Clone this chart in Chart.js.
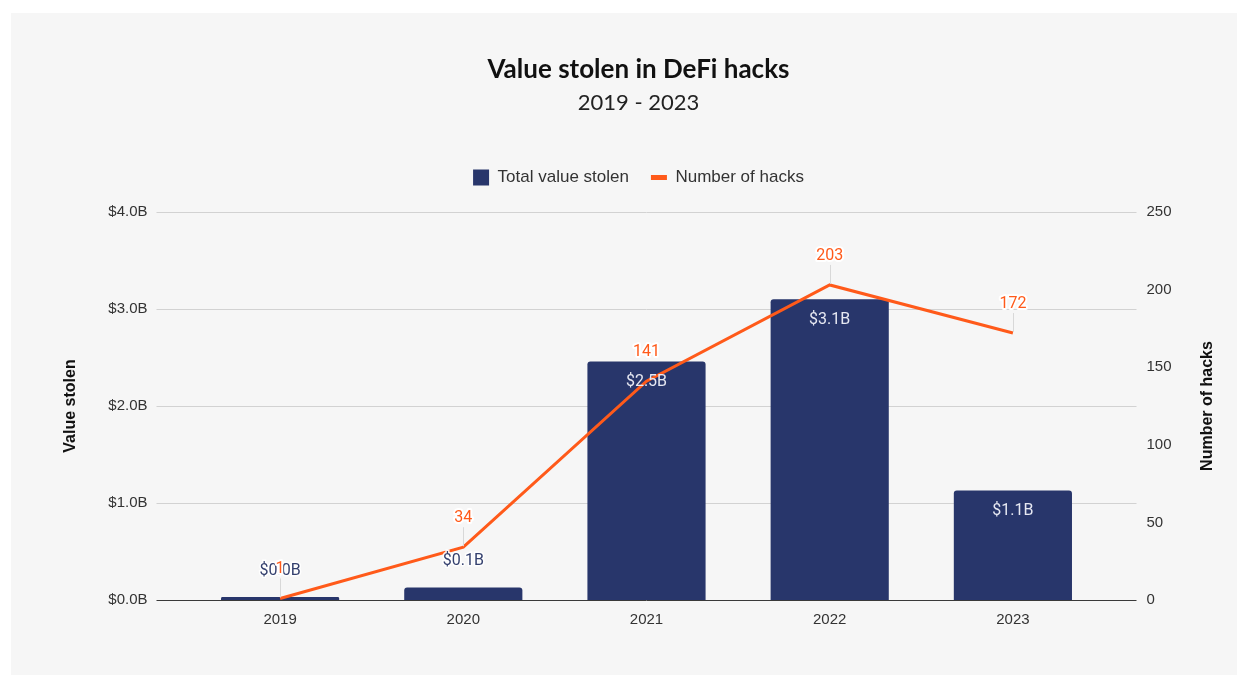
<!DOCTYPE html>
<html>
<head>
<meta charset="utf-8">
<title>Value stolen in DeFi hacks</title>
<script src="https://cdn.jsdelivr.net/npm/chart.js@4.4.1/dist/chart.umd.min.js"></script>
<style>
  html, body { margin: 0; padding: 0; background: #ffffff; }
  #panel { position: absolute; left: 11px; top: 13px; width: 1226px; height: 662px; background: #f6f6f6; }
  #wrap { position: absolute; left: 0; top: 0; width: 1248px; height: 675px; }
</style>
</head>
<body>
<div id="panel"></div>
<div id="wrap"><canvas id="chart"></canvas></div>
<script>
// data
const years = ['2019', '2020', '2021', '2022', '2023'];
const valueStolen = [0.03, 0.13, 2.46, 3.10, 1.13];   // billions USD
const valueLabels = ['$0.0B', '$0.1B', '$2.5B', '$3.1B', '$1.1B'];
const hackCount = [1, 34, 141, 203, 172];

const navy = '#28366b';
const orange = '#ff5a1a';
const tickFont = { family: '"Liberation Sans", Arial, sans-serif', size: 15 };
const axisTitleFont = { family: '"Liberation Sans", Arial, sans-serif', size: 16, weight: 'bold' };
const labelFont = '16px Roboto, "Liberation Sans", sans-serif';

// gridlines run a bit past the plot on both sides, like the original
const gridPlugin = {
  id: 'extendedGrid',
  beforeDatasetsDraw(chart) {
    const { ctx, chartArea, scales } = chart;
    ctx.save();
    ctx.lineWidth = 1;
    ctx.strokeStyle = '#d2d2d2';
    scales.y.ticks.forEach(t => {
      if (t.value === 0) return;
      const y = Math.round(scales.y.getPixelForValue(t.value)) + 0.5;
      ctx.beginPath();
      ctx.moveTo(chartArea.left - 32, y);
      ctx.lineTo(chartArea.right + 32, y);
      ctx.stroke();
    });
    ctx.restore();
  },
  afterDatasetsDraw(chart) {
    const { ctx, chartArea, scales } = chart;
    const y = Math.round(scales.y.getPixelForValue(0)) + 0.5;
    ctx.save();
    ctx.strokeStyle = '#3a3a3a';
    ctx.lineWidth = 1;
    ctx.beginPath();
    ctx.moveTo(chartArea.left - 32, y);
    ctx.lineTo(chartArea.right + 32, y);
    ctx.stroke();
    // right axis title reads bottom-to-top like the left one
    ctx.font = 'bold 16px "Liberation Sans", Arial, sans-serif';
    ctx.fillStyle = '#111';
    ctx.textAlign = 'center';
    ctx.textBaseline = 'middle';
    ctx.translate(1208, (chartArea.top + chartArea.bottom) / 2);
    ctx.rotate(-Math.PI / 2);
    ctx.fillText('Number of hacks', 0, 0);
    ctx.restore();
  }
};

// extra room between legend and plot
const legendSpacing = {
  id: 'legendSpacing',
  beforeLayout(chart) {
    const legend = chart.legend;
    if (legend && !legend._spaced) {
      const fit = legend.fit;
      legend.fit = function () { fit.call(this); this.height += 16; };
      legend._spaced = true;
    }
  }
};

// value labels on bars and line points
const labelPlugin = {
  id: 'valueLabels',
  afterDatasetsDraw(chart) {
    const ctx = chart.ctx;
    const bars = chart.getDatasetMeta(0).data;
    ctx.save();
    ctx.font = labelFont;
    ctx.textAlign = 'center';
    ctx.textBaseline = 'middle';

    bars.forEach((bar, i) => {
      const tall = bar.base - bar.y > 40;
      if (tall) {
        ctx.fillStyle = '#e6e8f2';
        ctx.fillText(valueLabels[i], bar.x, bar.y + 21);
      } else {
        ctx.lineWidth = 3;
        ctx.strokeStyle = 'rgba(255,255,255,0.9)';
        ctx.strokeText(valueLabels[i], bar.x, bar.y - 26);
        ctx.fillStyle = '#34406e';
        ctx.fillText(valueLabels[i], bar.x, bar.y - 26);
      }
    });

    chart.getDatasetMeta(1).data.forEach((pt, i) => {
      const ly = pt.y - 29;
      const insideBar = pt.y > bars[i].y + 4;
      if (!insideBar) {
        ctx.strokeStyle = '#d8d8d8';
        ctx.lineWidth = 1;
        ctx.beginPath();
        ctx.moveTo(Math.round(pt.x) + 0.5, ly + 9);
        ctx.lineTo(Math.round(pt.x) + 0.5, pt.y - 1);
        ctx.stroke();
      }
      ctx.lineWidth = 4;
      ctx.lineJoin = 'round';
      ctx.strokeStyle = '#ffffff';
      ctx.strokeText(String(hackCount[i]), pt.x, ly);
      ctx.fillStyle = orange;
      ctx.fillText(String(hackCount[i]), pt.x, ly);
    });
    ctx.restore();
  }
};

new Chart(document.getElementById('chart'), {
  data: {
    labels: years,
    datasets: [
      {
        type: 'bar',
        label: 'Total value stolen',
        data: valueStolen,
        backgroundColor: navy,
        borderRadius: 3,
        categoryPercentage: 1,
        barPercentage: 0.645,
        yAxisID: 'y',
        order: 1
      },
      {
        type: 'line',
        label: 'Number of hacks',
        data: hackCount,
        borderColor: orange,
        backgroundColor: orange,
        borderWidth: 3,
        pointRadius: 0,
        tension: 0,
        yAxisID: 'y1',
        order: 0
      }
    ]
  },
  options: {
    responsive: true,
    maintainAspectRatio: false,
    animation: false,
    layout: { padding: { top: 0, left: 55, right: 26, bottom: 35 } },
    plugins: {
      title: {
        display: true,
        text: 'Value stolen in DeFi hacks',
        color: '#111',
        font: { family: 'Lato, "Noto Sans", sans-serif', size: 26, weight: 'bold' },
        padding: { top: 53.9, bottom: 0 }
      },
      subtitle: {
        display: true,
        text: '2019 - 2023',
        color: '#222',
        font: { family: 'Lato, "Noto Sans", sans-serif', size: 22 },
        padding: { top: 4.2, bottom: 31.3 }
      },
      legend: {
        display: true,
        labels: {
          font: { family: '"Liberation Sans", Arial, sans-serif', size: 17 },
          color: '#333',
          usePointStyle: true,
          pointStyleWidth: 16,
          boxHeight: 16,
          padding: 22,
          generateLabels(chart) {
            return chart.data.datasets.map((ds, i) => ({
              text: ds.label,
              fillStyle: ds.backgroundColor,
              strokeStyle: ds.type === 'line' ? ds.borderColor : ds.backgroundColor,
              lineWidth: ds.type === 'line' ? 5 : 0,
              pointStyle: ds.type === 'line' ? 'line' : 'rect',
              fontColor: '#333',
              hidden: false,
              datasetIndex: i
            }));
          }
        }
      },
      tooltip: { enabled: false }
    },
    scales: {
      x: {
        grid: { display: false, drawTicks: false },
        border: { display: false },
        ticks: { font: tickFont, color: '#333', padding: 11 }
      },
      y: {
        position: 'left',
        min: 0,
        max: 4,
        grid: { display: false, drawTicks: false },
        border: { display: false },
        ticks: {
          stepSize: 1,
          font: tickFont,
          color: '#333',
          padding: 41,
          callback: v => '$' + Number(v).toFixed(1) + 'B'
        },
        title: { display: true, text: 'Value stolen', color: '#111', font: axisTitleFont, padding: { top: 6, bottom: 0 } },
        afterFit(scale) { scale.width = 133.5; }
      },
      y1: {
        position: 'right',
        min: 0,
        max: 250,
        grid: { display: false, drawTicks: false },
        border: { display: false },
        ticks: { stepSize: 50, font: tickFont, color: '#333', padding: 42 },
        afterFit(scale) { scale.width = 117.5; }
      }
    }
  },
  plugins: [gridPlugin, legendSpacing, labelPlugin]
});
</script>
</body>
</html>
